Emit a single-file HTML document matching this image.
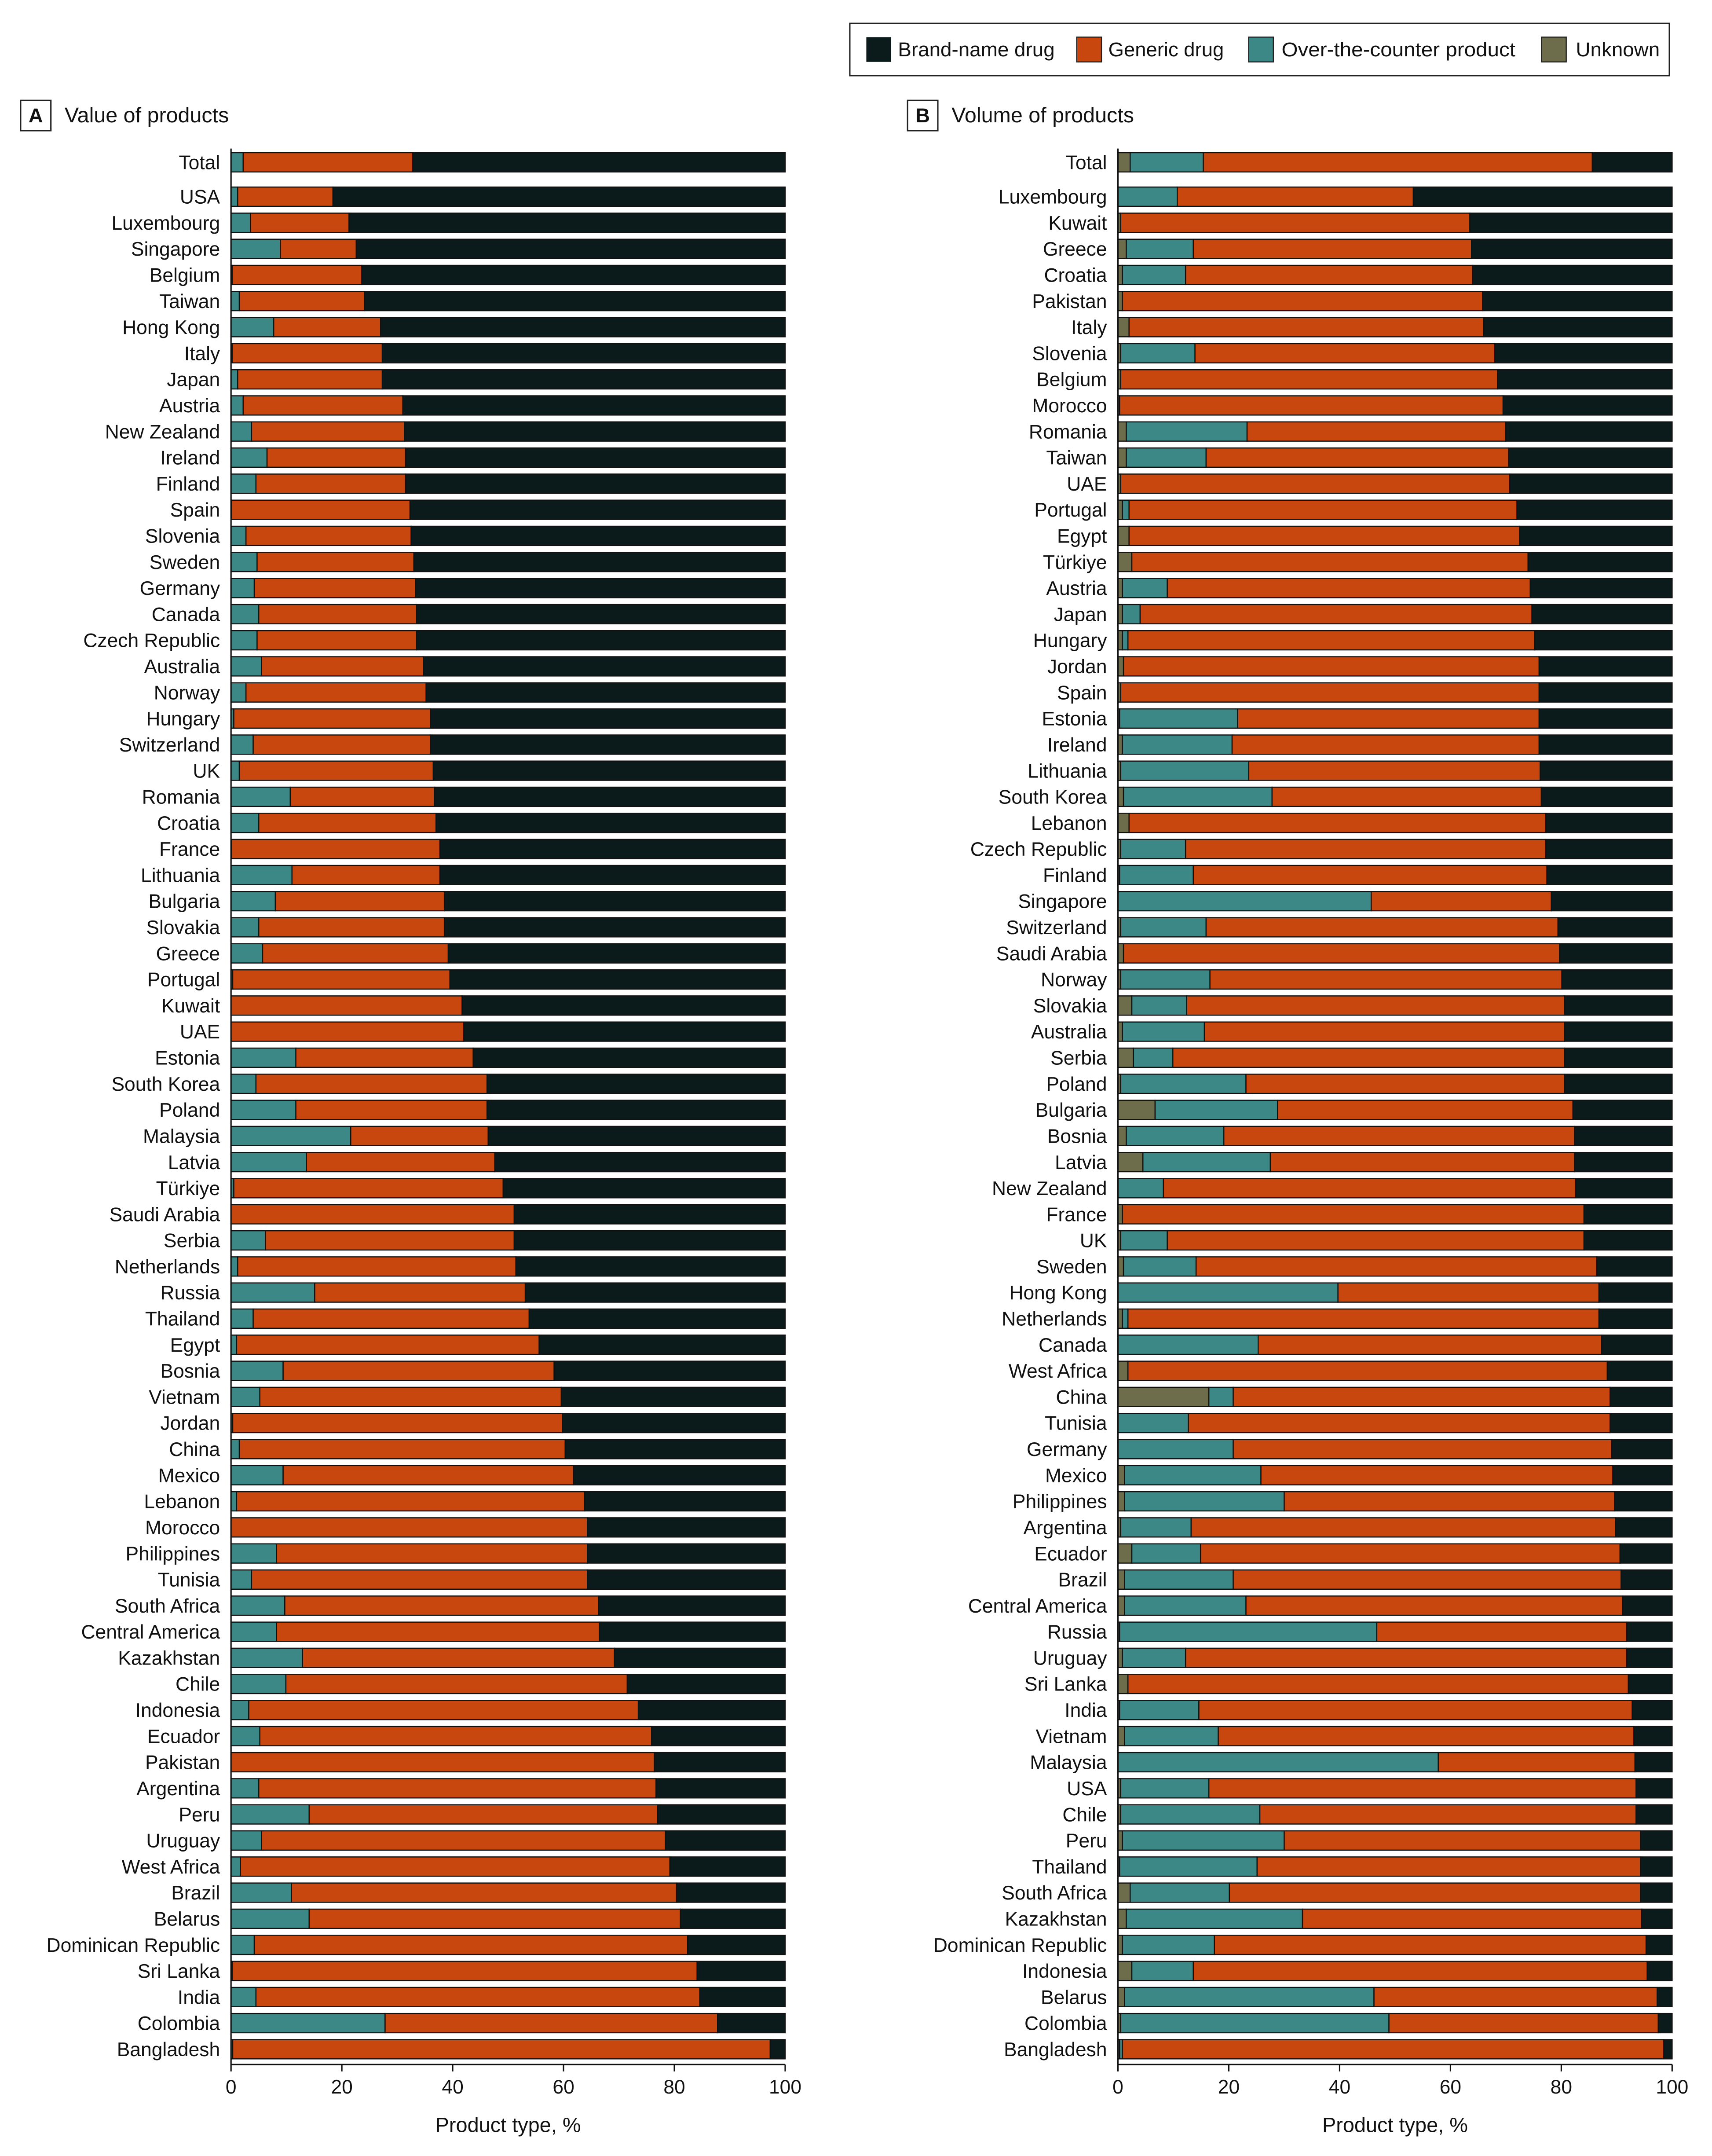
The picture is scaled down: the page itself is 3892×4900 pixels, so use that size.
<!DOCTYPE html>
<html><head><meta charset="utf-8"><style>
html,body{margin:0;padding:0;background:#fff}
svg{display:block}
text{font-family:"Liberation Sans",sans-serif;fill:#111}
</style></head><body>
<svg id="chart" width="3892" height="4900" viewBox="0 0 1245 1567.5" preserveAspectRatio="none" xmlns="http://www.w3.org/2000/svg">
<g id="legend">
<rect x="618" y="17" width="596" height="38" fill="#fff" stroke="#222" stroke-width="1"/>
<g><rect x="630" y="27" width="18" height="18" fill="#0b1a1a"/><text x="653" y="41" font-size="14.5" textLength="114" lengthAdjust="spacingAndGlyphs">Brand-name drug</text></g>
<g><rect x="783" y="27" width="18" height="18" fill="#c8470f" stroke="#222" stroke-width="0.8"/><text x="806" y="41" font-size="14.5" textLength="84" lengthAdjust="spacingAndGlyphs">Generic drug</text></g>
<g><rect x="908" y="27" width="18" height="18" fill="#3b8886" stroke="#222" stroke-width="0.8"/><text x="932" y="41" font-size="14.5" textLength="170" lengthAdjust="spacingAndGlyphs">Over-the-counter product</text></g>
<g><rect x="1121" y="27" width="18" height="18" fill="#6e6d4b" stroke="#222" stroke-width="0.8"/><text x="1146" y="41" font-size="14.5" textLength="61" lengthAdjust="spacingAndGlyphs">Unknown</text></g>
</g>
<g id="panelA"></g>
<g id="panelB"></g>
</svg>
<script>
const catsA = ["Total","USA","Luxembourg","Singapore","Belgium","Taiwan","Hong Kong","Italy","Japan","Austria","New Zealand","Ireland","Finland","Spain","Slovenia","Sweden","Germany","Canada","Czech Republic","Australia","Norway","Hungary","Switzerland","UK","Romania","Croatia","France","Lithuania","Bulgaria","Slovakia","Greece","Portugal","Kuwait","UAE","Estonia","South Korea","Poland","Malaysia","Latvia","Türkiye","Saudi Arabia","Serbia","Netherlands","Russia","Thailand","Egypt","Bosnia","Vietnam","Jordan","China","Mexico","Lebanon","Morocco","Philippines","Tunisia","South Africa","Central America","Kazakhstan","Chile","Indonesia","Ecuador","Pakistan","Argentina","Peru","Uruguay","West Africa","Brazil","Belarus","Dominican Republic","Sri Lanka","India","Colombia","Bangladesh"];
const unkA = catsA.map(()=>0);
const otcA = [2.2,1.2,3.5,8.9,0.2,1.5,7.7,0.2,1.2,2.2,3.7,6.5,4.5,0.1,2.7,4.7,4.2,5,4.7,5.5,2.7,0.5,4,1.5,10.7,5,0.1,11,8,5,5.7,0.3,0,0,11.7,4.5,11.7,21.6,13.6,0.5,0,6.2,1.2,15.1,4,1,9.4,5.2,0.3,1.5,9.4,1,0,8.2,3.7,9.7,8.2,12.9,9.9,3.2,5.2,0,5,14.1,5.5,1.7,10.9,14.1,4.2,0.2,4.5,27.8,0.3];
const genA = [32.8,18.4,21.3,22.6,23.6,24.1,27,27.3,27.3,31,31.3,31.5,31.5,32.3,32.5,33,33.3,33.5,33.5,34.7,35.2,36,36,36.5,36.7,37,37.7,37.7,38.5,38.5,39.2,39.5,41.7,42,43.7,46.2,46.2,46.4,47.6,49.1,51.1,51.1,51.4,53.1,53.8,55.6,58.3,59.6,59.8,60.3,61.8,63.8,64.3,64.3,64.3,66.3,66.5,69.2,71.5,73.5,75.9,76.4,76.7,77,78.4,79.2,80.4,81.1,82.4,84.1,84.6,87.8,97.3];
const catsB = ["Total","Luxembourg","Kuwait","Greece","Croatia","Pakistan","Italy","Slovenia","Belgium","Morocco","Romania","Taiwan","UAE","Portugal","Egypt","Türkiye","Austria","Japan","Hungary","Jordan","Spain","Estonia","Ireland","Lithuania","South Korea","Lebanon","Czech Republic","Finland","Singapore","Switzerland","Saudi Arabia","Norway","Slovakia","Australia","Serbia","Poland","Bulgaria","Bosnia","Latvia","New Zealand","France","UK","Sweden","Hong Kong","Netherlands","Canada","West Africa","China","Tunisia","Germany","Mexico","Philippines","Argentina","Ecuador","Brazil","Central America","Russia","Uruguay","Sri Lanka","India","Vietnam","Malaysia","USA","Chile","Peru","Thailand","South Africa","Kazakhstan","Dominican Republic","Indonesia","Belarus","Colombia","Bangladesh"];
const unkB = [2.2,0,0.5,1.5,0.8,0.8,2,0.5,0.5,0.3,1.5,1.5,0.5,0.8,2,2.5,0.8,0.8,0.8,1,0.5,0.3,0.8,0.5,1,2,0.5,0.3,0,0.5,1,0.5,2.5,0.8,2.8,0.5,6.7,1.5,4.5,0,0.8,0.5,1,0,0.8,0,1.8,16.4,0,0,1.2,1.2,0.5,2.5,1.2,1.2,0.3,0.8,1.8,0.3,1.2,0,0.5,0.5,0.8,0.3,2.2,1.5,0.8,2.5,1.2,0.5,0.3];
const otcB = [15.4,10.7,0.5,13.6,12.2,0.8,2,13.9,0.5,0.3,23.3,15.9,0.5,2,2,2.5,8.9,4,1.8,1,0.5,21.6,20.6,23.6,27.8,2,12.2,13.6,45.7,15.9,1,16.6,12.4,15.6,9.9,23.1,28.8,19.1,27.5,8.2,0.8,8.9,14.1,39.7,1.8,25.3,1.8,20.8,12.7,20.8,25.8,30,13.2,14.9,20.8,23.1,46.7,12.2,1.8,14.6,18.1,57.8,16.4,25.6,30,25.1,20.1,33.3,17.4,13.6,46.2,48.9,0.8];
const genB = [85.6,53.3,63.5,63.8,64,65.8,66,68,68.5,69.5,70,70.5,70.7,72,72.5,74,74.4,74.7,75.2,76,76,76,76,76.2,76.4,77.2,77.2,77.4,78.2,79.4,79.7,80.1,80.6,80.6,80.6,80.6,82.1,82.4,82.4,82.6,84.1,84.1,86.4,86.8,86.8,87.3,88.3,88.8,88.8,89.1,89.3,89.6,89.8,90.6,90.8,91.1,91.8,91.8,92.1,92.8,93.1,93.3,93.5,93.5,94.3,94.3,94.3,94.5,95.3,95.5,97.3,97.5,98.5];
const ticks = [0,20,40,60,80,100];

const NS="http://www.w3.org/2000/svg";
const COLORS={unk:"#6e6d4b",otc:"#3b8886",gen:"#c8470f",brand:"#0b1a1a"};
function mk(tag,attrs,parent){const e=document.createElementNS(NS,tag);for(const k in attrs)e.setAttribute(k,attrs[k]);parent.appendChild(e);return e;}
function rowY(i){return i===0?118:143+(i-1)*18.97;}
function drawPanel(g,x0,x1,cats,unk,otc,gen,letter,title,letterX){
  const xs=v=>x0+(x1-x0)*v/100;
  const hdr=mk("g",{},g);
  
  
  mk("rect",{x:letterX,y:73,width:22,height:22,fill:"#fff",stroke:"#222","stroke-width":1},hdr);
  const lt=mk("text",{x:letterX+11,y:89,"font-size":14.5,"text-anchor":"middle","font-weight":"bold"},hdr);lt.textContent=letter;
  const tt=mk("text",{x:letterX+32,y:89,"font-size":15.5},hdr);tt.textContent=title;
  const bh=14;
  cats.forEach((c,i)=>{
    const y=rowY(i);
    const row=mk("g",{},g);
    
    
    const lab=mk("text",{x:x0-8,y:y+5,"font-size":14.2,"text-anchor":"end"},row);lab.textContent=c;
    const segs=[["unk",0,unk[i]],["otc",unk[i],otc[i]],["gen",otc[i],gen[i]],["brand",gen[i],100]];
    segs.forEach(s=>{
      if(s[2]-s[1]<=0)return;
      const r=mk("rect",{x:xs(s[1]),y:y-bh/2,width:xs(s[2])-xs(s[1]),height:bh,fill:COLORS[s[0]],stroke:"#111","stroke-width":0.8},row);
      
      
    });
  });
  const ax=mk("g",{},g);
  
  
  mk("line",{x1:x0,y1:108,x2:x0,y2:1501,stroke:"#111","stroke-width":1},ax);
  mk("line",{x1:x0,y1:1501,x2:x1,y2:1501,stroke:"#111","stroke-width":1},ax);
  ticks.forEach(t=>{
    mk("line",{x1:xs(t),y1:1501,x2:xs(t),y2:1506,stroke:"#111","stroke-width":1},ax);
    const tl=mk("text",{x:xs(t),y:1522,"font-size":14.2,"text-anchor":"middle"},ax);tl.textContent=t;
  });
  const xt=mk("text",{x:(x0+x1)/2,y:1550,"font-size":15,"text-anchor":"middle"},ax);xt.textContent="Product type, %";
  
  
}
drawPanel(document.getElementById("panelA"),168,571,catsA,unkA,otcA,genA,"A","Value of products",15);
drawPanel(document.getElementById("panelB"),813,1216,catsB,unkB,otcB,genB,"B","Volume of products",660);
</script>
</body></html>
